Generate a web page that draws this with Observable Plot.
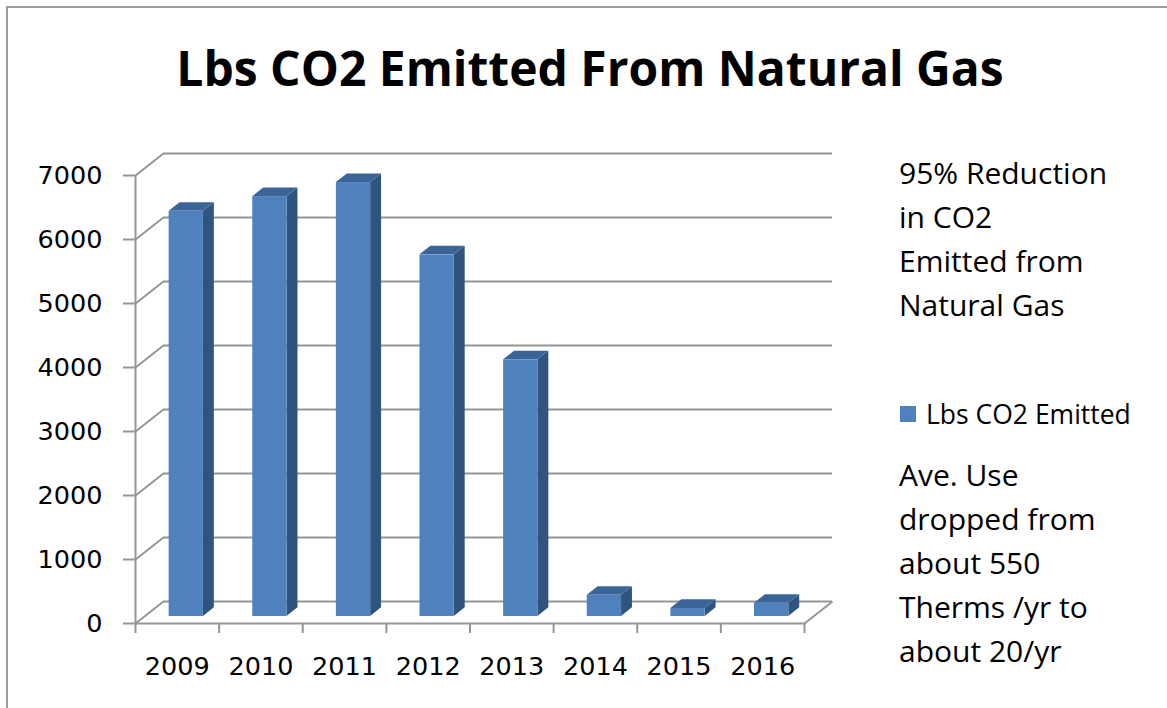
<!DOCTYPE html>
<html>
<head>
<meta charset="utf-8">
<script src="https://cdn.jsdelivr.net/npm/d3@7"></script>
<script src="https://cdn.jsdelivr.net/npm/@observablehq/plot@0.6"></script>
<style>
html, body { margin: 0; padding: 0; background: #fff; overflow: hidden; }
#page { position: relative; width: 1167px; height: 708px; overflow: hidden; }
#frame { position: absolute; left: 6px; top: 6px; width: 1300px; height: 900px; border: 2px solid #9b9b9b; }
#title { position: absolute; left: 0; width: 1180px; top: 44px; text-align: center;
  font-family: "Open Sans", sans-serif; font-weight: bold; font-size: 48px; line-height: 48px; color: #000; white-space: nowrap; }
#chart { position: absolute; left: 0; top: 130px; }
.note { position: absolute; left: 899px; font-family: "Open Sans", sans-serif; font-size: 30px; line-height: 44px; color: #000; white-space: nowrap; }
#legend { position: absolute; left: 900px; top: 396px; font-family: "Open Sans", sans-serif; font-size: 26.5px; color: #000; white-space: nowrap; display: flex; align-items: center; }
#legend .sw { width: 16px; height: 16px; margin-right: 10px; }
</style>
</head>
<body>
<div id="page">
  <div id="frame"></div>
  <div id="title"></div>
  <div id="chart"></div>
  <div class="note" id="note1" style="top:151px"></div>
  <div id="legend"><span class="sw"></span><span class="lt"></span></div>
  <div class="note" id="note2" style="top:453px"></div>
</div>
<script>
// ---- data ----
const years = ["2009", "2010", "2011", "2012", "2013", "2014", "2015", "2016"];
const co2Values = [6330, 6560, 6780, 5650, 4010, 330, 125, 205];
const yTicks = [0, 1000, 2000, 3000, 4000, 5000, 6000, 7000];
const titleText = "Lbs CO2 Emitted From Natural Gas";
const seriesName = "Lbs CO2 Emitted";
const note1Lines = ["95% Reduction", "in CO2", "Emitted from", "Natural Gas"];
const note2Lines = ["Ave. Use", "dropped from", "about 550", "Therms /yr to", "about 20/yr"];

// ---- styling / 3D geometry (in data units) ----
const colFront = "#4f81bd", colSide = "#31547f", colTop = "#3b6596";
const gridColor = "#959595";
const depthX = 0.335;   // wall depth along x (category units)
const depthY = 344;     // wall depth along y (value units)
const barW = 0.41;      // bar width in category units
const fz = 0.32;        // bar front position within depth
const bd = 0.39;        // bar depth fraction

document.getElementById("title").textContent = titleText;
document.getElementById("note1").innerHTML = note1Lines.join("<br>");
document.getElementById("note2").innerHTML = note2Lines.join("<br>");
document.querySelector("#legend .sw").style.background = colFront;
document.querySelector("#legend .lt").textContent = seriesName;

const n = years.length;
const idx = d3.range(n);
const bars = idx.map(i => {
  const x1 = i - barW / 2 + fz * depthX, x2 = i + barW / 2 + fz * depthX;
  const y0 = fz * depthY, y1 = co2Values[i] + fz * depthY;
  return {year: years[i], x1, x2, y0, y1};
});
const sidePts = bars.flatMap(b => [
  {z: b.year, x: b.x2, ya: b.y0, yb: b.y1},
  {z: b.year, x: b.x2 + bd * depthX, ya: b.y0 + bd * depthY, yb: b.y1 + bd * depthY}
]);
const topPts = bars.flatMap(b => [
  {z: b.year, y: b.y1, xa: b.x1, xb: b.x2},
  {z: b.year, y: b.y1 + bd * depthY, xa: b.x1 + bd * depthX, xb: b.x2 + bd * depthX}
]);
const boundaries = d3.range(n + 1).map(i => i - 0.5);
const yMax = yTicks[yTicks.length - 1];

const plot = Plot.plot({
  width: 850,
  height: 578,
  marginLeft: 135,
  marginRight: 18,
  marginTop: 23,
  marginBottom: 85,
  style: {fontFamily: "DejaVu Sans", fontSize: "25.5px", color: "#000", background: "transparent", overflow: "visible"},
  x: {type: "linear", domain: [-0.5, n - 0.5 + depthX]},
  y: {domain: [0, yMax + depthY]},
  marks: [
    // back wall gridlines
    Plot.ruleY(yTicks, {y: d => d + depthY, x1: -0.5 + depthX, x2: n - 0.5 + depthX, stroke: gridColor, strokeWidth: 2}),
    // left wall diagonals
    Plot.link(yTicks, {x1: -0.5, y1: d => d, x2: -0.5 + depthX, y2: d => d + depthY, stroke: gridColor, strokeWidth: 2}),
    // floor
    Plot.ruleY([0], {x1: -0.5, x2: n - 0.5, stroke: gridColor, strokeWidth: 2}),
    Plot.link([0], {x1: n - 0.5, y1: 0, x2: n - 0.5 + depthX, y2: depthY, stroke: gridColor, strokeWidth: 2}),
    // front vertical axis
    Plot.ruleX([-0.5], {y1: 0, y2: yMax, stroke: gridColor, strokeWidth: 2}),
    // bars: side, top, front
    Plot.areaY(sidePts, {x: "x", y1: "ya", y2: "yb", z: "z", fill: colSide}),
    Plot.areaX(topPts, {y: "y", x1: "xa", x2: "xb", z: "z", fill: colTop}),
    Plot.rect(bars, {x1: "x1", x2: "x2", y1: "y0", y2: "y1", fill: colFront}),
    // axes
    Plot.axisY({ticks: yTicks, tickFormat: d3.format("d"), tickSize: 12, tickPadding: 21, stroke: gridColor, fill: "#000", strokeWidth: 2, label: null}),
    Plot.axisX({ticks: boundaries, tickFormat: () => "", tickSize: 10, stroke: gridColor, strokeWidth: 2, label: null}),
    Plot.axisX({ticks: idx, tickFormat: i => years[i], tickSize: 0, tickPadding: 33, fill: "#000", label: null})
  ]
});
document.getElementById("chart").appendChild(plot);
</script>
</body>
</html>
